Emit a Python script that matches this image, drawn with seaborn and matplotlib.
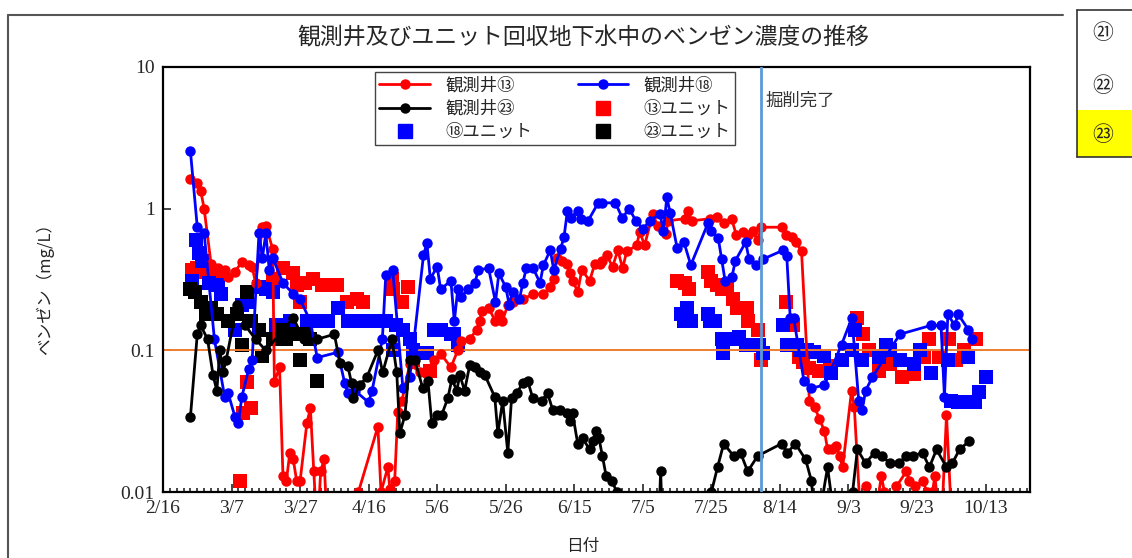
import numpy as np
import pandas as pd
import matplotlib
matplotlib.use('Agg')
import matplotlib.pyplot as plt
from matplotlib.ticker import MultipleLocator, NullLocator
from matplotlib.lines import Line2D
import seaborn as sns

# days counted from 2/16, values in mg/L (N.D. drawn below the axis at 0.005)
tick_days = [0, 20, 40, 60, 80, 100, 120, 140, 160, 180, 200, 220, 240]
tick_labels = ['2/16', '3/7', '3/27', '4/16', '5/6', '5/26', '6/15', '7/5',
               '7/25', '8/14', '9/3', '9/23', '10/13']

w13_day = [8, 10, 11, 12, 14, 16, 18, 19, 21, 23, 25, 26, 27, 29, 30, 32, 32.5, 34, 35, 36,
           37, 38, 39, 40, 42, 43, 44, 45, 46, 47, 48, 52, 57, 62.7, 63.6, 65.6, 66.2, 67.6,
           68.5, 69.7, 72, 75, 77, 79, 81, 84, 86, 87, 89.5, 91.5, 92.4, 93, 95, 97, 98, 99,
           100.6, 102, 105, 108, 111, 113, 114, 115, 116.3, 118, 118.7, 119.5, 121, 122.2,
           124.5, 126, 127.4, 128, 129.4, 131.2, 132.7, 134.1, 135.3, 138.2, 139.1, 140.5,
           142.9, 144.3, 146.9, 147.2, 152.2, 153.1, 154.2, 159.5, 161.5, 163.8, 165.9, 167.3,
           169.1, 170.6, 172, 173.5, 174.6, 180.5, 181.9, 183.4, 184.8, 186.3, 188.6, 190.1,
           191.5, 193, 193.9, 195.3, 196.5, 197.4, 198.3, 200.9, 201.7, 203.8, 205.2, 207,
           209.6, 210.5, 212, 214, 216.9, 217.8, 219.5, 221.6, 223, 224.5, 225.2, 227, 228.6,
           230.3]
w13_val = [1.63, 1.52, 1.34, 1.0, 0.41, 0.38, 0.37, 0.33, 0.36, 0.42, 0.40, 0.39, 0.30, 0.74,
           0.76, 0.52, 0.06, 0.076, 0.013, 0.012, 0.019, 0.017, 0.012, 0.012, 0.031, 0.039,
           0.014, 0.005, 0.014, 0.017, 0.005, 0.005, 0.01, 0.029, 0.01, 0.015, 0.0105, 0.012,
           0.037, 0.044, 0.08, 0.07, 0.072, 0.085, 0.095, 0.076, 0.10, 0.117, 0.12, 0.14,
           0.16, 0.19, 0.20, 0.16, 0.18, 0.16, 0.21, 0.22, 0.23, 0.25, 0.25, 0.28, 0.32, 0.45,
           0.43, 0.41, 0.35, 0.31, 0.26, 0.37, 0.31, 0.41, 0.41, 0.43, 0.47, 0.39, 0.51, 0.38,
           0.50, 0.55, 0.69, 0.55, 0.92, 0.76, 0.66, 0.82, 0.85, 0.97, 0.82, 0.85, 0.87, 0.79,
           0.85, 0.65, 0.68, 0.65, 0.70, 0.60, 0.74, 0.74, 0.65, 0.63, 0.58, 0.50, 0.044, 0.040,
           0.033, 0.027, 0.020, 0.020, 0.021, 0.018, 0.015, 0.052, 0.040, 0.005, 0.011, 0.005,
           0.013, 0.01, 0.005, 0.011, 0.014, 0.012, 0.011, 0.012, 0.01, 0.01, 0.013, 0.005,
           0.035, 0.005]

w18_day = [8, 10, 12, 15, 18, 19, 21, 22, 23, 25, 26, 28, 29, 30, 31, 32, 35, 38, 40, 43, 45,
           51, 53, 54, 56, 60, 61, 64, 65, 67, 70, 72, 73, 76, 77, 78, 80, 81, 84, 85, 86, 87,
           89, 91, 92, 95, 97, 98, 100, 101, 102, 104, 105, 106, 108, 110, 111, 113, 114, 116,
           117, 118, 119, 121, 122, 124, 127, 128, 132, 134, 136, 138, 140, 142, 145, 146, 147,
           148, 150, 152, 154, 159, 160, 162, 163, 164, 166, 167, 170, 171, 173, 175, 181, 182,
           183, 184, 187, 189, 193, 198, 201, 203, 204, 205, 207, 215, 224, 227, 228, 229, 231,
           232, 235, 236]
w18_val = [2.55, 0.74, 0.67, 0.12, 0.047, 0.050, 0.034, 0.031, 0.047, 0.074, 0.085, 0.67, 0.45,
           0.67, 0.37, 0.45, 0.30, 0.25, 0.23, 0.16, 0.089, 0.097, 0.059, 0.050, 0.052, 0.043,
           0.052, 0.12, 0.34, 0.37, 0.054, 0.065, 0.105, 0.47, 0.57, 0.32, 0.39, 0.27, 0.31,
           0.16, 0.27, 0.24, 0.27, 0.30, 0.37, 0.38, 0.22, 0.35, 0.28, 0.21, 0.26, 0.23, 0.30,
           0.38, 0.38, 0.30, 0.40, 0.51, 0.37, 0.52, 0.63, 0.97, 0.86, 0.97, 0.85, 0.82, 1.1,
           1.1, 1.1, 0.86, 1.0, 0.82, 0.72, 0.82, 0.92, 0.70, 1.2, 0.93, 0.53, 0.58, 0.40, 0.79,
           0.70, 0.62, 0.44, 0.31, 0.33, 0.43, 0.58, 0.44, 0.40, 0.44, 0.51, 0.46, 0.17, 0.17,
           0.061, 0.054, 0.057, 0.11, 0.17, 0.044, 0.038, 0.052, 0.065, 0.13, 0.15, 0.15, 0.047,
           0.18, 0.15, 0.18, 0.14, 0.12]

w23_day = [8, 10, 11, 13, 14.6, 15.7, 16.6, 17.5, 18.4, 21.6, 24, 27, 30, 34, 38, 41, 45, 50,
           51.6, 53.9, 55, 55.5, 57.4, 59.5, 62.7, 64.1, 66.8, 68.2, 69.1, 70.6, 72, 73.5, 75.8,
           77.3, 78.4, 79.9, 81.3, 83.1, 84.3, 85.7, 86.6, 88, 89.5, 91, 92.4, 93.9, 96.8, 97.7,
           99.1, 100.6, 101.7, 103.2, 105, 106.4, 107.9, 110.5, 112.2, 113.7, 115.7, 117.8,
           118.7, 119.5, 121, 122.4, 124.5, 125.4, 126.2, 127.2, 128.2, 129.3, 131, 132.4, 138,
           144.5, 145.2, 145.8, 152, 160, 161.8, 163.6, 166.5, 168.5, 170.6, 173.5, 180.5, 182.2,
           184.5, 187.5, 189.2, 190.6, 193.9, 196.5, 201.2, 202.6, 205, 207.6, 209.9, 212, 214.6,
           216.9, 218.7, 221.6, 223.6, 225.7, 228.6, 230.3, 232.4, 235.3]
w23_val = [0.034, 0.13, 0.15, 0.12, 0.067, 0.052, 0.10, 0.07, 0.085, 0.21, 0.15, 0.12, 0.10,
           0.13, 0.17, 0.12, 0.12, 0.13, 0.082, 0.078, 0.059, 0.046, 0.057, 0.065, 0.10, 0.070,
           0.12, 0.07, 0.026, 0.035, 0.085, 0.085, 0.054, 0.061, 0.031, 0.035, 0.035, 0.046,
           0.063, 0.052, 0.067, 0.052, 0.079, 0.077, 0.07, 0.067, 0.047, 0.026, 0.044, 0.019,
           0.046, 0.050, 0.059, 0.061, 0.046, 0.044, 0.050, 0.038, 0.038, 0.036, 0.032, 0.036,
           0.022, 0.024, 0.020, 0.023, 0.027, 0.024, 0.018, 0.013, 0.012, 0.01, 0.005, 0.005,
           0.014, 0.005, 0.005, 0.01, 0.015, 0.022, 0.018, 0.019, 0.014, 0.018, 0.022, 0.019,
           0.022, 0.017, 0.012, 0.005, 0.015, 0.005, 0.01, 0.020, 0.016, 0.019, 0.018, 0.016,
           0.016, 0.018, 0.018, 0.019, 0.015, 0.020, 0.015, 0.016, 0.020, 0.023]

u13_day = [8.5, 10, 11.7, 13.5, 15.7, 22.4, 23.3, 24.5, 25.7, 31.2, 32.1, 35, 37.9, 39, 40,
           41.5, 43.7, 46.4, 49.3, 50.7, 53.6, 56.6, 58.3, 66.8, 67.1, 69.7, 71.4, 72.9, 77.8,
           149.9, 152.2, 153.6, 158.9, 160, 161.5, 163, 164.7, 166.2, 167.6, 170.3, 170.6, 172.6,
           173.5, 174.6, 181.9, 183.7, 185.7, 186.6, 188.6, 191.5, 194.5, 202.6, 204.1, 206, 209,
           212, 215.7, 219, 222, 223.6, 226.5, 229.4, 231.5, 233.8, 237.3]
u13_val = [0.37, 0.38, 0.36, 0.36, 0.34, 0.012, 0.036, 0.06, 0.039, 0.27, 0.32, 0.38, 0.35, 0.29,
           0.22, 0.30, 0.32, 0.29, 0.29, 0.29, 0.22, 0.23, 0.22, 0.32, 0.27, 0.22, 0.28, 0.085,
           0.072, 0.31, 0.30, 0.27, 0.36, 0.31, 0.29, 0.27, 0.27, 0.23, 0.20, 0.20, 0.16, 0.11,
           0.14, 0.085, 0.22, 0.15, 0.09, 0.083, 0.075, 0.072, 0.078, 0.17, 0.13, 0.10, 0.072,
           0.08, 0.065, 0.068, 0.09, 0.12, 0.09, 0.12, 0.085, 0.10, 0.12]

u18_day = [8.5, 9.5, 10.5, 11.5, 13.5, 16, 17, 21, 23, 24.5, 28, 30, 32, 33, 37, 42, 45, 48, 51,
           54, 58, 60, 63, 65, 67, 68, 70, 72, 73, 75, 77, 79, 81, 84, 85, 86, 151, 152, 153,
           154, 159, 159.5, 161, 163, 163.5, 166, 168, 170, 172, 174, 175, 181, 182, 185, 186,
           188, 190, 193, 195, 198, 201, 202, 204, 209, 211, 212, 215, 219, 221, 224, 229, 230,
           232, 234, 235, 237, 238, 240]
u18_val = [0.31, 0.60, 0.49, 0.43, 0.30, 0.29, 0.25, 0.14, 0.21, 0.22, 0.28, 0.27, 0.26, 0.15,
           0.16, 0.16, 0.16, 0.16, 0.20, 0.16, 0.16, 0.16, 0.16, 0.16, 0.10, 0.15, 0.14, 0.12,
           0.10, 0.096, 0.096, 0.14, 0.14, 0.13, 0.13, 0.11, 0.18, 0.16, 0.20, 0.16, 0.18, 0.16,
           0.16, 0.12, 0.096, 0.12, 0.125, 0.11, 0.11, 0.11, 0.096, 0.15, 0.11, 0.11, 0.10, 0.10,
           0.097, 0.092, 0.069, 0.085, 0.10, 0.14, 0.085, 0.09, 0.11, 0.10, 0.085, 0.08, 0.10,
           0.069, 0.085, 0.044, 0.043, 0.043, 0.09, 0.043, 0.051, 0.065]

u23_day = [8, 9.3, 11, 12.5, 14, 15.7, 19, 21.6, 23, 24.5, 25.7, 28, 29, 32, 35, 36, 38, 40, 41,
           43, 45]
u23_val = [0.27, 0.26, 0.22, 0.18, 0.20, 0.18, 0.16, 0.18, 0.11, 0.26, 0.16, 0.14, 0.092, 0.12,
           0.14, 0.12, 0.13, 0.085, 0.13, 0.12, 0.061]

excavation_day = 174.6

sns.set_style('white')
plt.rcParams['font.family'] = ['Liberation Serif', 'Noto Sans CJK JP']
JP = ['Noto Sans CJK JP']

fig = plt.figure(figsize=(11.32, 5.58), dpi=100)
ax = fig.add_axes([0.144, 0.118, 0.766, 0.762])

wells = [
    ('観測井⑬', w13_day, w13_val, '#ff0000'),
    ('観測井⑱', w18_day, w18_val, '#0000ff'),
    ('観測井㉓', w23_day, w23_val, '#000000'),
]
units = [
    ('⑬ユニット', u13_day, u13_val, '#ff0000'),
    ('⑱ユニット', u18_day, u18_val, '#0000ff'),
    ('㉓ユニット', u23_day, u23_val, '#000000'),
]

for name, d, v, c in wells:
    df = pd.DataFrame({'day': d, 'val': v})
    sns.lineplot(data=df, x='day', y='val', ax=ax, color=c, marker='o', markersize=7.5,
                 markeredgewidth=0, linewidth=2, estimator=None, sort=False, legend=False)

for name, d, v, c in units:
    df = pd.DataFrame({'day': d, 'val': v})
    sns.scatterplot(data=df, x='day', y='val', ax=ax, color=c, marker='s', s=90,
                    linewidth=0, legend=False)

ax.set_yscale('log')
ax.set_ylim(0.01, 10)
ax.set_xlim(0, 253)
ax.set_yticks([0.01, 0.1, 1, 10])
ax.set_yticklabels(['0.01', '0.1', '1', '10'])
ax.yaxis.set_minor_locator(NullLocator())
ax.set_xticks(tick_days)
ax.set_xticklabels(tick_labels)
ax.xaxis.set_minor_locator(MultipleLocator(2))
ax.tick_params(axis='both', which='major', direction='in', length=6, width=1.2,
               labelsize=14, pad=6, bottom=True, left=True)
ax.tick_params(axis='x', which='minor', direction='in', length=3, width=1.2, bottom=True)
ax.set_xlabel('')
ax.set_ylabel('')
for sp in ax.spines.values():
    sp.set_linewidth(1.6)
    sp.set_color('black')

ax.axhline(0.1, color='#ed7d31', linewidth=1.4, zorder=1)
ax.axvline(excavation_day, color='#5b9bd5', linewidth=2, zorder=5)
ax.text(excavation_day + 1.2, 5.8, '掘削完了', fontsize=12.5, color='#333333',
        ha='left', va='center', family=JP)

handles = [
    Line2D([], [], color='#ff0000', marker='o', markersize=7.5, lw=2, markeredgewidth=0),
    Line2D([], [], color='#000000', marker='o', markersize=7.5, lw=2, markeredgewidth=0),
    Line2D([], [], color='#0000ff', marker='s', markersize=9.5, lw=0),
    Line2D([], [], color='#0000ff', marker='o', markersize=7.5, lw=2, markeredgewidth=0),
    Line2D([], [], color='#ff0000', marker='s', markersize=9.5, lw=0),
    Line2D([], [], color='#000000', marker='s', markersize=9.5, lw=0),
]
labels = ['観測井⑬', '観測井㉓', '⑱ユニット', '観測井⑱', '⑬ユニット', '㉓ユニット']
leg = ax.legend(handles, labels, ncol=2, loc='upper left',
                bbox_to_anchor=(0.2445, 0.988, 0.415, 0), mode='expand', borderaxespad=0,
                frameon=True, fancybox=False, edgecolor='#444444', framealpha=1,
                handlelength=2.9, borderpad=0.25, labelspacing=0.3,
                handletextpad=0.9, columnspacing=1.0, prop={'family': JP, 'size': 12.5})
leg.get_frame().set_linewidth(1.0)

fig.text(583 / 1132, 1 - 38 / 558, '観測井及びユニット回収地下水中のベンゼン濃度の推移',
         ha='center', va='center', fontsize=16.5, family=JP)
fig.text(45 / 1132, 1 - 285 / 558, 'ベンゼン（mg/L）', rotation=90, ha='center',
         va='center', fontsize=12, family=JP)
fig.text(583 / 1132, 1 - 547 / 558, '日付', ha='center', va='center', fontsize=12,
         family=JP)

# outer frame of the chart area and the cut-off table at the right
fig.add_artist(Line2D([8 / 1132, 1063 / 1132], [1 - 15 / 558, 1 - 15 / 558],
                      color='#555555', lw=1.5))
fig.add_artist(Line2D([8 / 1132, 8 / 1132], [0, 1 - 15 / 558], color='#555555', lw=1.5))
fig.add_artist(plt.Rectangle((1077 / 1132, 1 - 157 / 558), 60 / 1132, 47 / 558,
                             facecolor='#ffff00', edgecolor='none'))
fig.add_artist(Line2D([1077 / 1132, 1077 / 1132], [1 - 10 / 558, 1 - 157 / 558],
                      color='#333333', lw=1.2))
fig.add_artist(Line2D([1077 / 1132, 1], [1 - 10 / 558, 1 - 10 / 558], color='#333333', lw=1.2))
fig.add_artist(Line2D([1077 / 1132, 1], [1 - 157 / 558, 1 - 157 / 558], color='#333333', lw=1.2))
for lab, yy in [('㉑', 33), ('㉒', 86), ('㉓', 135)]:
    fig.text(1103 / 1132, 1 - yy / 558, lab, ha='center', va='center', fontsize=15,
             family=JP)

fig.savefig('out.png', dpi=100)
